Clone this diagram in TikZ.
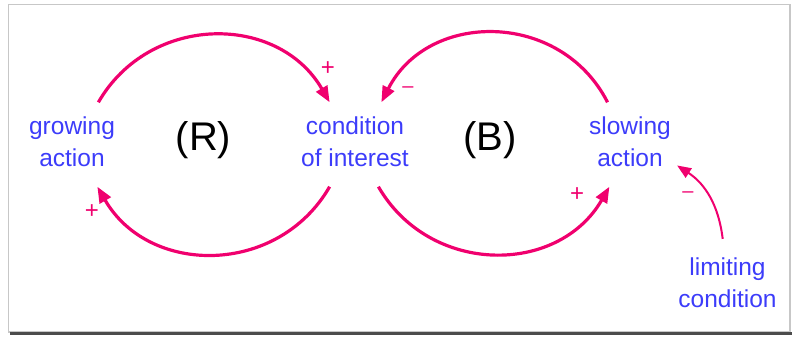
\documentclass[tikz,border=0pt]{standalone}
\usepackage{fontspec}
\setmainfont{Liberation Sans}
\usetikzlibrary{arrows.meta}
\definecolor{loopPink}{RGB}{240,0,110}
\definecolor{labelBlue}{RGB}{60,60,250}
\begin{document}
\begin{tikzpicture}[x=1pt,y=1pt,
  var/.style={font=\fontsize{24.5}{32}\selectfont, text=labelBlue, align=center,
    minimum height=84pt, inner xsep=6pt, inner ysep=0pt},
  loopname/.style={font=\fontsize{40}{46}\selectfont, text=black, anchor=base, inner sep=0pt},
  link/.style={draw=loopPink, line width=3.2pt, -{Triangle[length=16pt,width=12.5pt]}},
  thinlink/.style={draw=loopPink, line width=2pt, -{Triangle[length=14pt,width=11pt]}},
  plussign/.style={font=\fontsize{24}{28}\selectfont, text=loopPink, anchor=base, inner sep=0pt},
  minussign/.style={font=\fontsize{20}{24}\selectfont, text=loopPink, anchor=base, inner sep=0pt}]
\useasboundingbox (0,0) rectangle (792,338);
% frame
\draw[draw=black!22, line width=1.5pt] (8.5,6) rectangle (790,333.5);
\draw[draw=black!70, line width=2.5pt] (10,4.5) -- (792,4.5);
% variables
\node[var] (ga) at (72,193.5) {\strut growing\\\strut action};
\node[var] (ci) at (355,193.5) {\strut condition\\\strut of interest};
\node[var] (sa) at (630,193.5) {\strut slowing\\\strut action};
\node[var, minimum height=91pt] (lc) at (727.5,53.4) {\strut limiting\\\strut condition};
% loop names
\node[loopname] (R) at (203.5,188) {(R)};
\node[loopname] (B) at (490,188) {(B)};
% links
\draw[link] (ga.58) to[bend left=60, looseness=1.14] (ci.121);
\draw[link] (ci.-121) to[bend left=60, looseness=1.14] (ga.-59);
\draw[link] (sa.118) to[bend right=63, looseness=1.17] (ci.58);
\draw[link] (ci.-61) to[bend right=60, looseness=1.14] (sa.-116);
\draw[thinlink] (lc.96) to[bend right=25] (sa.-24);
% polarities
\node[plussign] (p1) at (328,262) {+};
\node[plussign] (p2) at (92,120) {+};
\node[minussign] (m1) at (408,245.4) {–};
\node[plussign] (p3) at (577,137) {+};
\node[minussign] (m2) at (688,140.4) {–};
\end{tikzpicture}
\end{document}
